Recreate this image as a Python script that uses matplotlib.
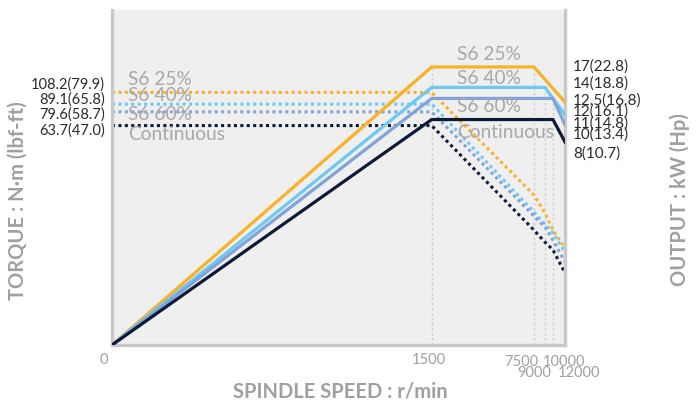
import numpy as np
import matplotlib
matplotlib.use('Agg')
import matplotlib.pyplot as plt
from matplotlib.transforms import blended_transform_factory

plt.rcParams['font.family'] = ['Lato', 'DejaVu Sans']

# speed breakpoints (r/min) and where they sit on the (schematic, non-linear) axis
speed_knots = [0, 1500, 7500, 9000, 10000, 12000]
speed_pos = [0, 319, 421, 432, 440, 452]

series_names = ['S6 25%', 'S6 40%', 'S6 60%', 'Continuous']
colors = ['#f9b228', '#6dc8f2', '#7fa3da', '#0c1a38']

# output (solid) curves, relative height 0-100
power_speed = [[0, 1500, 7500, 12000],
               [0, 1500, 9000, 12000],
               [0, 1500, 10000, 12000],
               [0, 1500, 10000, 12000]]
power_level = [[0, 83.0, 83.0, 72.5],
               [0, 76.9, 76.9, 68.7],
               [0, 73.6, 73.6, 65.7],
               [0, 67.3, 67.3, 60.6]]

# torque (dotted) curves, relative height 0-100
torque_speed = [0, 1500, 7500, 9000, 10000, 12000]
torque_level = [[75.4, 75.4, 44.8, 39.4, 34.3, 29.0],
                [71.9, 71.9, 39.7, 36.1, 33.4, 27.8],
                [69.6, 69.6, 38.5, 35.2, 31.3, 24.8],
                [65.5, 65.5, 34.3, 30.7, 28.4, 21.5]]

torque_labels = ['108.2(79.9)', '89.1(65.8)', '79.6(58.7)', '63.7(47.0)']
torque_label_y = [77.6, 73.4, 68.7, 63.9]
power_labels = ['17(22.8)', '14(18.8)', '12.5(16.8)', '12(16.1)',
                '11(14.8)', '10(13.4)', '8(10.7)']
power_label_y = [83.0, 78.1, 73.1, 69.6, 66.2, 62.7, 57.2]

left_name_y = [79.2, 74.4, 68.7, 62.7]
right_name_y = [86.6, 79.7, 71.3, 63.3]

guide_speed = [1500, 7500, 9000, 10000]
guide_top = [83.0, 83.0, 76.9, 73.6]

# tick label text, speed, pixel offset (dx, dy), alignment
tick_text = ['0', '1500', '7500', '10000', '9000', '12000']
tick_speed = [0, 1500, 7500, 10000, 9000, 12000]
tick_dx = [-8, -3, 4, -10, 6, -7]
tick_dy = [-15, -15, -17, -17, -28, -28]
tick_ha = ['center', 'center', 'right', 'left', 'right', 'left']


def fwd(x):
    return np.interp(x, speed_knots, speed_pos)


def inv(p):
    return np.interp(p, speed_pos, speed_knots)


fig = plt.figure(figsize=(6.97, 4.01), dpi=100)
ax = fig.add_axes([112 / 697, 56 / 401, 453 / 697, 335 / 401])
ax.set_facecolor('#efefef')
ax.set_xscale('function', functions=(fwd, inv))
ax.set_xlim(0, 12000)
ax.set_ylim(0, 100)
ax.set_xticks([])
ax.set_yticks([])
for s in ['left', 'bottom', 'right']:
    ax.spines[s].set_color('#c8c8c8')
    ax.spines[s].set_linewidth(2.4)
ax.spines['top'].set_visible(False)

# guide lines
for sp, top in zip(guide_speed, guide_top):
    ax.plot([sp, sp], [0, top], color='#cdcdcd', lw=0.9, ls=(0, (2, 2)), zorder=1)

# torque curves
for lv, c in zip(torque_level, colors):
    ax.plot(torque_speed, lv, color=c, lw=2.2, ls=(0, (1, 1.1)),
            dash_capstyle='butt', zorder=2)

# output curves
for sp, lv, c in zip(power_speed, power_level, colors):
    ax.plot(sp, lv, color=c, lw=2.3, zorder=3, solid_joinstyle='miter')

trans = blended_transform_factory(ax.transAxes, ax.transData)
for name, y1, y2 in zip(series_names, left_name_y, right_name_y):
    ax.text(0.035, y1, name, transform=trans, color='#a8a8a8', fontsize=13.8,
            va='center', ha='left', zorder=4)
    ax.text(0.762, y2, name, transform=trans, color='#a8a8a8', fontsize=13.8,
            va='center', ha='left', zorder=4)

for t, y in zip(torque_labels, torque_label_y):
    ax.text(-0.016, y, t, transform=trans, color='#2b2b2b', fontsize=10.5,
            va='center', ha='right', clip_on=False)
for t, y in zip(power_labels, power_label_y):
    ax.text(1.018, y, t, transform=trans, color='#2b2b2b', fontsize=11,
            va='center', ha='left', clip_on=False)

for t, sp, dx, dy, ha in zip(tick_text, tick_speed, tick_dx, tick_dy, tick_ha):
    ax.annotate(t, xy=(sp, 0), xycoords=('data', 'axes fraction'),
                xytext=(dx, dy), textcoords='offset pixels',
                ha=ha, va='center', color='#a0a0a0', fontsize=10.5,
                annotation_clip=False)

fig.text(340 / 697, 1 - 392 / 401, 'SPINDLE SPEED : r/min', ha='center',
         va='center', color='#a0a0a0', fontsize=14.5, fontweight='bold')
fig.text(18 / 697, 1 - 201 / 401, 'TORQUE : N·m (lbf-ft)', ha='center',
         va='center', rotation=90, color='#a0a0a0', fontsize=14.5, fontweight='bold')
fig.text(680 / 697, 1 - 200 / 401, 'OUTPUT : kW (Hp)', ha='center',
         va='center', rotation=90, color='#a0a0a0', fontsize=14.5, fontweight='bold')

fig.savefig('out.png', dpi=100)
